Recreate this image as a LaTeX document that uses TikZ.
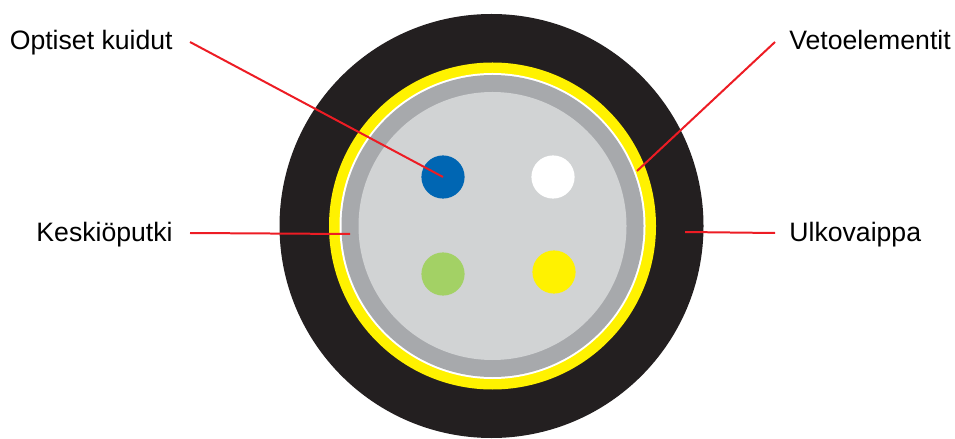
\documentclass[tikz,border=0pt]{standalone}
\usepackage{fontspec}
\setmainfont{Liberation Sans}
\definecolor{jacket}{HTML}{231F20}
\definecolor{strength}{HTML}{FFF200}
\definecolor{tubewall}{HTML}{A7A9AC}
\definecolor{tubefill}{HTML}{D1D3D4}
\definecolor{leadred}{HTML}{ED1C24}
\definecolor{fibreblue}{HTML}{0066B3}
\definecolor{fibregreen}{HTML}{A3D165}
\begin{document}
\begin{tikzpicture}[x=.0264cm,y=-.0264cm,line width=.55pt,
  every node/.style={font=\fontsize{20}{22}\selectfont,inner sep=0pt},
  lead/.style={leadred,line width=1.5pt},
  fibre/.style={circle,minimum size=1.14cm,inner sep=0pt}]
  \path[use as bounding box] (0,0) rectangle (955,439);
  \fill[jacket] (491.5,226) circle (212);
  \fill[strength] (492.5,226) circle (163.5);
  \fill[white] (492.5,226) circle (153);
  \fill[tubewall] (492.5,226) circle (151);
  \fill[tubefill] (492.5,226) circle (134);
  \node[fibre,fill=fibreblue] (blue) at (443,177) {};
  \node[fibre,fill=white] (white) at (553,177) {};
  \node[fibre,fill=fibregreen] (green) at (443,274) {};
  \node[fibre,fill=strength] (yellow) at (554,272) {};
  \node[anchor=base east] (fibres) at (173,50) {Optiset kuidut};
  \node[anchor=base east] (tube) at (173,242) {Keskiöputki};
  \node[anchor=base west] (members) at (789,50) {Vetoelementit};
  \node[anchor=base west] (outer) at (789,242) {Ulkovaippa};
  \coordinate (fibresend) at (190,42);
  \coordinate (tubeend) at (190,233);
  \coordinate (membersend) at (775,42);
  \coordinate (outerend) at (775,233);
  \coordinate (fibrestip) at (443,177);
  \coordinate (tubetip) at (350,234);
  \coordinate (memberstip) at (637,171);
  \coordinate (outertip) at (685,232);
  \draw[lead] (fibresend)--(fibrestip);
  \draw[lead] (tubeend)--(tubetip);
  \draw[lead] (membersend)--(memberstip);
  \draw[lead] (outerend)--(outertip);
\end{tikzpicture}
\end{document}
